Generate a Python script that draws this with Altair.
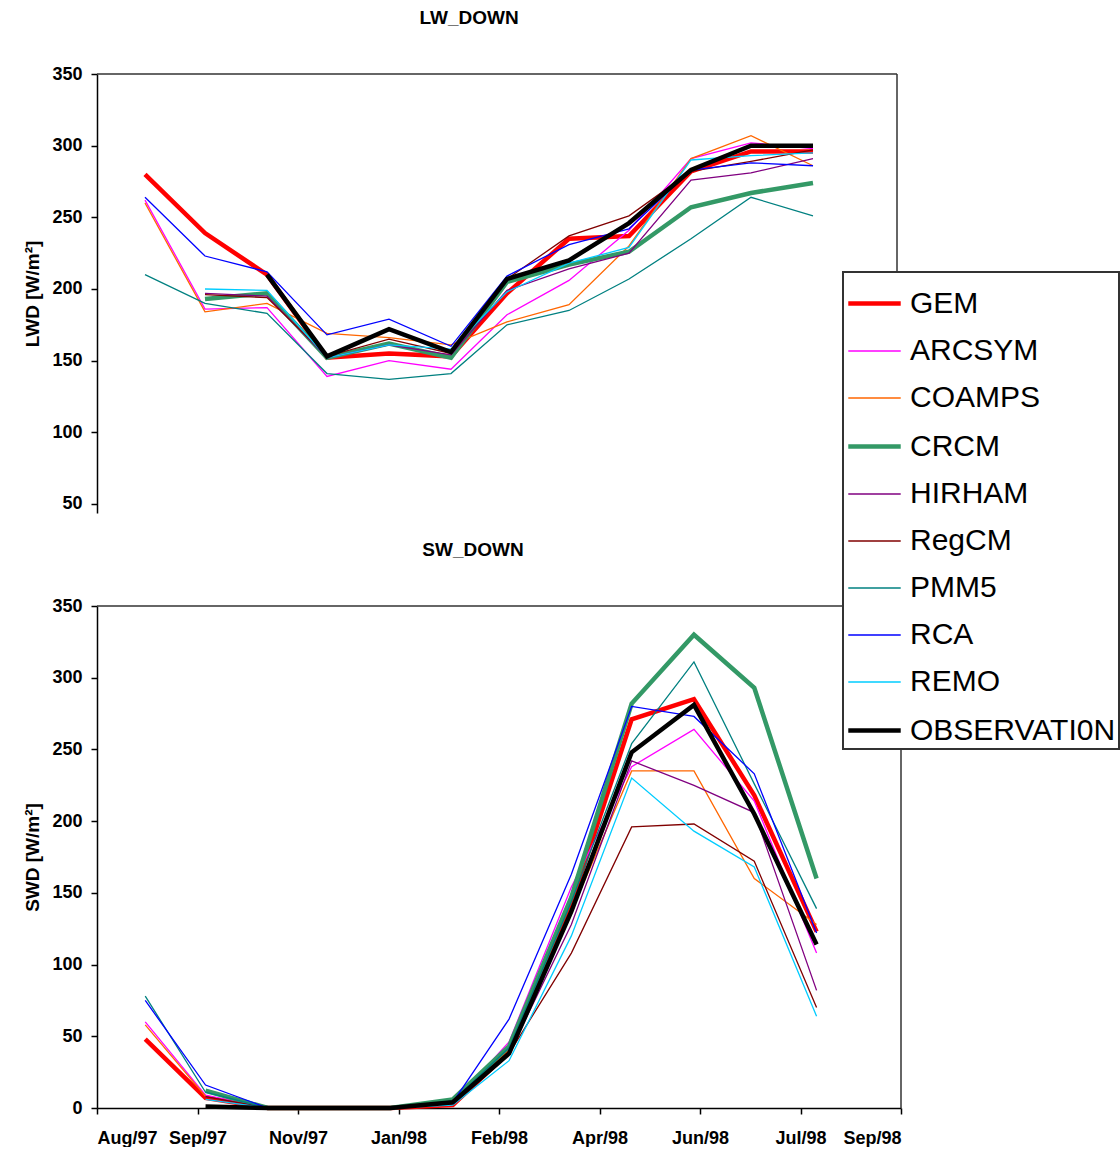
import altair as alt
import pandas as pd

series = ["GEM", "ARCSYM", "COAMPS", "CRCM", "HIRHAM", "RegCM", "PMM5", "RCA", "REMO", "OBSERVATI0N"]
colors = ["#FF0000", "#FF00FF", "#FF6600", "#339966", "#800080", "#800000", "#008080", "#0000FF", "#00CCFF", "#000000"]
widths = [4.5, 1.3, 1.3, 4.5, 1.3, 1.3, 1.3, 1.3, 1.3, 4.5]

months = ["1997-09-01", "1997-10-01", "1997-11-01", "1997-12-01", "1998-01-01", "1998-02-01",
          "1998-03-01", "1998-04-01", "1998-05-01", "1998-06-01", "1998-07-01", "1998-08-01"]

lwd = {
    "GEM":         [280, 239, 210, 152, 155, 153, 197, 235, 237, 282, 296, 296],
    "ARCSYM":      [262, 186, 187, 139, 150, 144, 182, 206, 241, 291, 302, 298],
    "COAMPS":      [260, 184, 190, 169, 166, 161, 177, 189, 230, 291, 307, 286],
    "CRCM":        [None, 193, 197, 152, 162, 152, 205, 217, 226, 257, 267, 274],
    "HIRHAM":      [None, 197, 195, 152, 161, 154, 199, 214, 225, 276, 281, 291],
    "RegCM":       [None, 196, 194, 153, 165, 155, 207, 237, 251, 282, 289, 297],
    "PMM5":        [210, 190, 183, 141, 137, 141, 175, 185, 207, 235, 264, 251],
    "RCA":         [264, 223, 212, 168, 179, 160, 209, 231, 242, 283, 288, 286],
    "REMO":        [None, 200, 199, 152, 161, 158, 198, 218, 229, 290, 293, 295],
    "OBSERVATI0N": [None, None, 210, 153, 172, 156, 207, 220, 246, 283, 300, 300],
}

swd = {
    "GEM":         [48, 7, 0, 0, 0, 2, 39, 142, 271, 285, 218, 123],
    "ARCSYM":      [60, 9, 0, 0, 0, 3, 46, 154, 238, 264, 214, 108],
    "COAMPS":      [58, 8, 0, 0, 0, 3, 41, 137, 235, 235, 160, 128],
    "CRCM":        [None, 12, 0, 0, 0, 6, 43, 147, 282, 330, 293, 160],
    "HIRHAM":      [None, 8, 0, 0, 0, 3, 38, 128, 242, 225, 206, 82],
    "RegCM":       [None, 8, 0, 0, 0, 3, 38, 108, 196, 198, 172, 70],
    "PMM5":        [78, 11, 0, 0, 0, 5, 42, 144, 254, 311, 226, 139],
    "RCA":         [75, 16, 0, 0, 0, 4, 62, 163, 280, 273, 233, 122],
    "REMO":        [None, 6, 0, 0, 0, 2, 33, 120, 230, 193, 168, 64],
    "OBSERVATI0N": [None, 1, 0, 0, 0, 4, 38, 137, 248, 281, 205, 114],
}

lw_ticks = [50, 100, 150, 200, 250, 300, 350]
sw_ticks = [0, 50, 100, 150, 200, 250, 300, 350]

x_start = alt.DateTime(year=1997, month=8, date=8, utc=True)
x_end = alt.DateTime(year=1998, month=9, date=12, utc=True)
x_tick_dates = [
    alt.DateTime(year=1997, month=8, date=8, utc=True),
    alt.DateTime(year=1997, month=9, date=27, utc=True),
    alt.DateTime(year=1997, month=11, date=16, utc=True),
    alt.DateTime(year=1998, month=1, date=5, utc=True),
    alt.DateTime(year=1998, month=2, date=24, utc=True),
    alt.DateTime(year=1998, month=4, date=15, utc=True),
    alt.DateTime(year=1998, month=6, date=4, utc=True),
    alt.DateTime(year=1998, month=7, date=24, utc=True),
    alt.DateTime(year=1998, month=9, date=12, utc=True),
]


def to_long(d):
    rows = []
    for s in series:
        for m, v in zip(months, d[s]):
            if v is not None:
                rows.append({"series": s, "date": m, "value": v})
    return pd.DataFrame(rows)


lw_df = to_long(lwd)
sw_df = to_long(swd)

PAD_L, PAD_T = 23, 9
FONT = "Liberation Sans"

# legend position is relative to the top plot's origin (97, 73)
legend = alt.Legend(
    orient="none", legendX=843 - 97, legendY=272 - 73 - 1, title=None,
    symbolType="stroke", symbolSize=2750, labelFontSize=30, labelFont=FONT,
    labelColor="black", fillColor="white", strokeColor="#333333", padding=3,
    rowPadding=5, labelOffset=7, labelLimit=400,
)

color = alt.Color("series:N", scale=alt.Scale(domain=series, range=colors), legend=legend)
swidth = alt.StrokeWidth("series:N", scale=alt.Scale(type="ordinal", domain=series, range=widths), legend=legend)
xscale = alt.Scale(type="utc", domain=[x_start, x_end])


def panel(df, ymin, ymax, yticks, ytitle, ptitle, show_x, width, height, dx):
    if show_x:
        xax = alt.Axis(values=x_tick_dates, labelExpr="utcFormat(datum.value, '%b/%y')",
                       title=None, grid=False, labelPadding=15)
    else:
        xax = None
    xenc = alt.X("date:T", scale=xscale, axis=xax, title=None)
    yenc = alt.Y("value:Q", scale=alt.Scale(domain=[ymin, ymax], nice=False, zero=False),
                 axis=alt.Axis(values=yticks, title=ytitle, grid=False, titlePadding=9, labelPadding=9))
    lines = alt.Chart(df).mark_line().encode(x=xenc, y=yenc, color=color, strokeWidth=swidth)
    top = alt.Chart(pd.DataFrame({"value": [ymax]})).mark_rule(color="#333333", strokeWidth=1.5).encode(y=yenc)
    right = alt.Chart(pd.DataFrame({"date": ["1998-09-12"]})).mark_rule(color="#333333", strokeWidth=1.5).encode(x=xenc)
    return alt.layer(lines, top, right).properties(
        width=width, height=height,
        title=alt.TitleParams(ptitle, frame="group", anchor="middle", dx=dx),
    )


top_panel = panel(lw_df, 43.7, 350, lw_ticks, "LWD [W/m²]", "LW_DOWN", False, 800, 439, -28)
bot_panel = panel(sw_df, 0, 350, sw_ticks, "SWD [W/m²]", "SW_DOWN", True, 804, 502, -26)

chart = alt.vconcat(top_panel, bot_panel, spacing=27).properties(
    padding={"left": PAD_L, "top": PAD_T, "right": 0, "bottom": 0},
    background="white",
).configure_view(stroke=None).configure_axis(
    labelFont=FONT, labelFontWeight="bold", labelFontSize=18, labelColor="black",
    titleFont=FONT, titleFontWeight="bold", titleFontSize=19, titleColor="black",
    domainColor="black", tickColor="black", tickSize=6, domainWidth=1.5, tickWidth=1.5,
).configure_title(
    font=FONT, fontWeight="bold", fontSize=19, color="black", offset=37,
).configure_legend(strokeWidth=2)

chart.save("out.html", embed_options={"renderer": "svg", "actions": False})
